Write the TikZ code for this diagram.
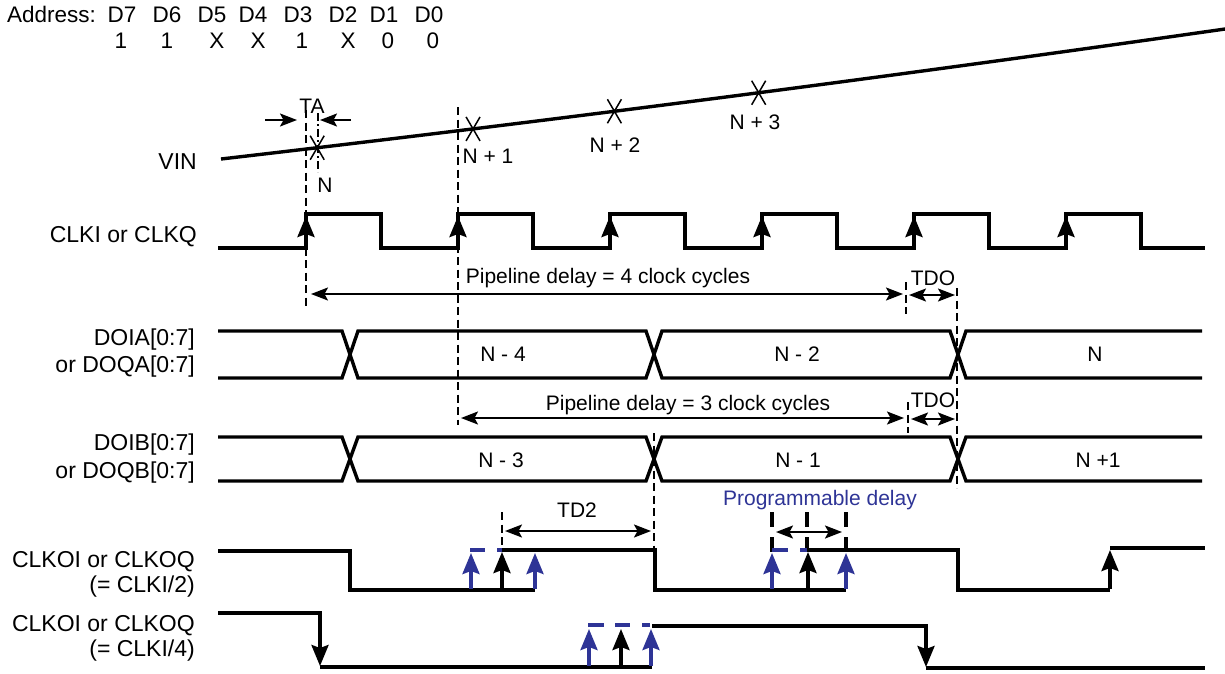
\documentclass[tikz,border=0pt]{standalone}
\usepackage{fontspec}
\setmainfont{Liberation Sans}
\usetikzlibrary{arrows.meta}
\definecolor{pblue}{RGB}{46,52,150}
\begin{document}
\begin{tikzpicture}[x=1pt,y=-1pt,
 wave/.style={line width=3.4pt},
 dsh/.style={line width=1.6pt,dash pattern=on 8pt off 4.5pt},
 dshdot/.style={line width=1.6pt,dash pattern=on 8pt off 3pt on 2pt off 3pt},
 thdsh/.style={line width=3.4pt,dash pattern=on 15pt off 10pt},
 dim/.style={line width=2pt,{Stealth[length=17pt,width=13pt,inset=3.5pt]}-{Stealth[length=17pt,width=13pt,inset=3.5pt]}},
 sarr/.style={line width=2pt,-{Stealth[length=17pt,width=13pt,inset=3.5pt]}},
 uparr/.style={line width=3.4pt,-{Stealth[length=21pt,width=17pt,inset=3pt]}},
 lbl/.style={font=\fontsize{23}{26}\selectfont,inner sep=0pt,anchor=base east},
 hdr/.style={font=\fontsize{22.5}{26}\selectfont,inner sep=0pt,anchor=base},
 txt/.style={font=\fontsize{21}{24}\selectfont,inner sep=0pt,anchor=base},
 xmk/.style={line width=1.5pt}]
\useasboundingbox (0,0) rectangle (1225,673);

% ---- header
\node[hdr,anchor=base west] (addr) at (7,22) {Address:};
\foreach \x/\t [count=\i] in {122/D7,167/D6,212/D5,253/D4,298/D3,343/D2,384/D1,429/D0}
  \node[hdr] (d\i) at (\x,22) {\t};
\foreach \x/\t [count=\i] in {121/1,167/1,217/X,258/X,302/1,348/X,388/0,433/0}
  \node[hdr] (v\i) at (\x,48) {\t};

% ---- left labels
\node[lbl] (lvin) at (197,169) {VIN};
\node[lbl] (lclk) at (197,242) {CLKI or CLKQ};
\node[lbl] (la1) at (195,345) {DOIA[0:7]};
\node[lbl] (la2) at (195,372) {or DOQA[0:7]};
\node[lbl] (lb1) at (195,450) {DOIB[0:7]};
\node[lbl] (lb2) at (195,478) {or DOQB[0:7]};
\node[lbl] (lc1) at (195,567) {CLKOI or CLKOQ};
\node[lbl] (lc2) at (195,592) {(= CLKI/2)};
\node[lbl] (ld1) at (195,631) {CLKOI or CLKOQ};
\node[lbl] (ld2) at (195,656) {(= CLKI/4)};

% ---- VIN ramp
\draw[line width=3.4pt] (221,159) .. controls (540,122) and (875,79) .. (1225,29)
  coordinate[pos=0.1] (xN) coordinate[pos=0.26] (xN1)
  coordinate[pos=0.403] (xN2) coordinate[pos=0.547] (xN3);
\foreach \c in {xN,xN1,xN2,xN3}
  \draw[xmk] (\c) +(-7,-12) -- +(7,12) +(-7,12) -- +(7,-12);
\node[txt] (tN) at (325,192) {N};
\node[txt] (tN1) at (488,163) {N + 1};
\node[txt] (tN2) at (615,152) {N + 2};
\node[txt] (tN3) at (755,129) {N + 3};

% TA
\draw[dsh] (306,110) -- (306,307);
\draw[dshdot] (318,113) -- (318,172);
\draw[sarr] (265,120) -- (297,120);
\draw[sarr] (351,120) -- (320,120);
\node[txt] (tTA) at (312,113) {TA};

% ---- CLKI
\draw[wave] (218,248) -- (306,248) -- (306,214) -- (381,214) -- (381,248) -- (458,248) -- (458,214)
 -- (533,214) -- (533,248) -- (610,248) -- (610,214) -- (685,214) -- (685,248) -- (762,248)
 -- (762,214) -- (837,214) -- (837,248) -- (914,248) -- (914,214) -- (989,214) -- (989,248)
 -- (1066,248) -- (1066,214) -- (1141,214) -- (1141,248) -- (1205,248);
\foreach \x in {306,458,610,762,914,1066}
  \draw[uparr] (\x,242) -- (\x,216);

% dashed at second edge
\draw[dsh] (458,107) -- (458,425);

% pipeline 4
\draw[dim] (311,294) -- (903,294);
\node[txt] (tp4) at (608,283) {Pipeline delay = 4 clock cycles};
\draw[dsh] (906,282) -- (906,314);
\draw[dsh] (957,288) -- (957,488);
\draw[dim] (909,295) -- (955,295);
\node[txt] (tdo1) at (933,285) {TDO};

% ---- DOIA bus
\draw[wave] (218,331) -- (342,331) -- (358,378) -- (646,378) -- (662,331) -- (950,331) -- (966,378) -- (1202,378);
\draw[wave] (218,378) -- (342,378) -- (358,331) -- (646,331) -- (662,378) -- (950,378) -- (966,331) -- (1202,331);
\node[txt] (na1) at (503,361) {N - 4};
\node[txt] (na2) at (797,361) {N - 2};
\node[txt] (na3) at (1095,361) {N};

% pipeline 3
\draw[dim] (461,418) -- (904,418);
\node[txt] (tp3) at (688,410) {Pipeline delay = 3 clock cycles};
\draw[dsh] (908,402) -- (908,433);
\draw[dim] (911,419) -- (955,419);
\node[txt] (tdo2) at (933,407) {TDO};

% ---- DOIB bus
\draw[wave] (218,437) -- (342,437) -- (358,481) -- (646,481) -- (662,437) -- (950,437) -- (966,481) -- (1202,481);
\draw[wave] (218,481) -- (342,481) -- (358,437) -- (646,437) -- (662,481) -- (950,481) -- (966,437) -- (1202,437);
\node[txt] (nb1) at (501,467) {N - 3};
\node[txt] (nb2) at (798,467) {N - 1};
\node[txt] (nb3) at (1098,467) {N +1};

% TD2
\draw[dsh] (654,433) -- (654,548);
\draw[dsh] (502,512) -- (502,548);
\draw[dim] (505,531) -- (651,531);
\node[txt] (ttd2) at (577,517) {TD2};

% programmable delay
\node[txt,text=pblue] (tprog) at (820,505) {Programmable delay};
\foreach \x in {772,807,846} \draw[thdsh] (\x,512) -- (\x,553);
\draw[dim] (776,532) -- (842,532);

% ---- CLKOI /2
\draw[wave] (218,551) -- (350,551) -- (350,590) -- (535,590);
\draw[wave] (502,550) -- (655,550) -- (655,590) -- (846,590);
\draw[wave] (807,550) -- (958,550) -- (958,590) -- (1110,590);
\draw[wave] (1110,548) -- (1205,548);
\draw[uparr] (502,589) -- (502,552);
\draw[uparr] (808,589) -- (808,552);
\draw[uparr] (1110,589) -- (1110,550);
\foreach \x in {471,535,772,846} \draw[uparr,pblue] (\x,589) -- (\x,553);
\draw[wave,pblue] (470,550) -- (485,550) (497,550) -- (502,550);
\draw[wave,pblue] (772,550) -- (788,550) (800,550) -- (807,550);

% ---- CLKOI /4
\draw[wave] (218,613) -- (320,613) -- (320,640);
\draw[uparr] (320,613) -- (320,666);
\draw[wave] (320,667) -- (652,667);
\draw[wave] (652,626) -- (926,626) -- (926,640);
\draw[uparr] (926,626) -- (926,667);
\draw[wave] (926,668) -- (1205,668);
\draw[uparr] (621,666) -- (621,629);
\foreach \x in {589,651} \draw[uparr,pblue] (\x,666) -- (\x,629);
\draw[wave,pblue] (588,625) -- (604,625) (615,625) -- (630,625) (642,625) -- (650,625);
\end{tikzpicture}
\end{document}
